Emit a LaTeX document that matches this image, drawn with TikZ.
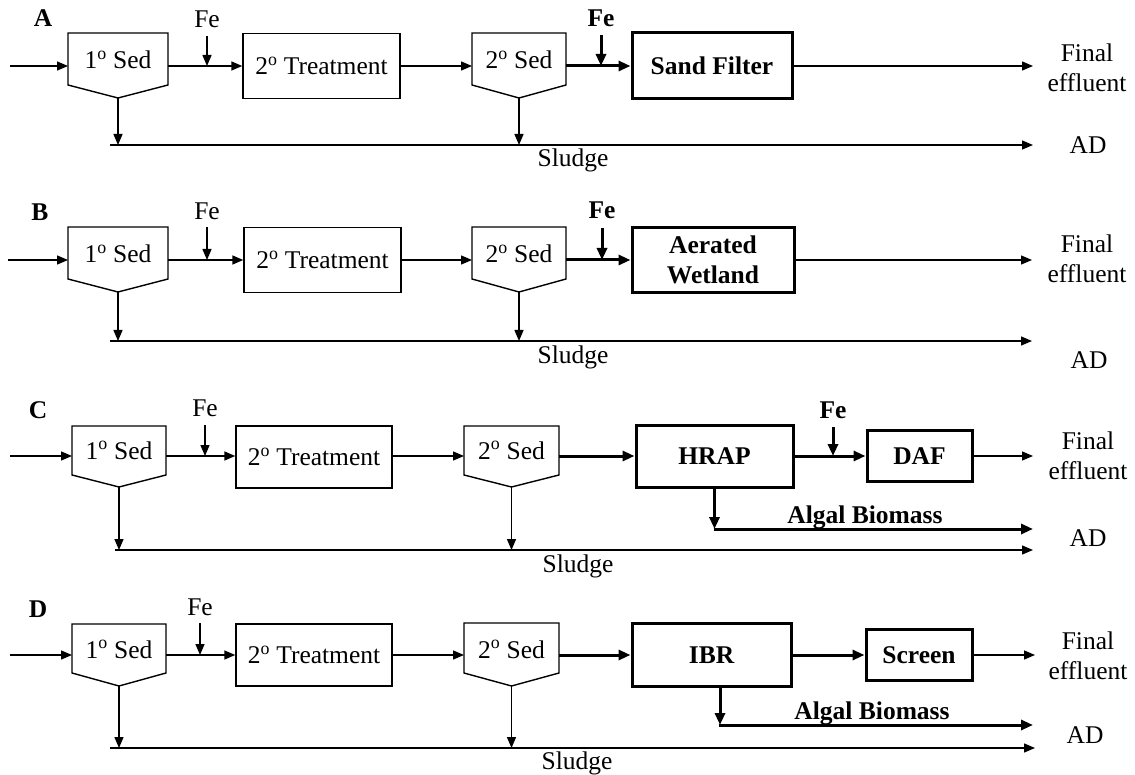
\documentclass[tikz,border=0pt]{standalone}
\usepackage{fontspec}
\setmainfont{Liberation Serif}
\usetikzlibrary{arrows.meta}
\newcommand\sedunit[8]{%
  \draw[sedline] (#2,#4) -- (#3,#4) -- (#3,#5) -- ({(#2+#3)/2},#6) -- (#2,#5) -- cycle;
  \coordinate (#1-in) at (#2,#7);
  \coordinate (#1-out) at (#3,#7);
  \coordinate (#1-bot) at ({(#2+#3)/2},#6);
  \node[txt, anchor=base] (#1-t) at ({(#2+#3)/2},#7+3) {#8};
}
\newcommand\feed[8]{%
  \node[#7, anchor=base] (#1) at (#2,#3) {#8};
  \coordinate (#1-s) at (#2,#4);
  \coordinate (#1-e) at (#2,#5);
  \draw[#6] (#1-s) -- (#1-e);
}
\tikzset{
  txt/.style={font=\fontsize{25.5}{30}\selectfont, inner sep=0pt},
  btxt/.style={font=\fontsize{25.5}{30}\selectfont\bfseries, inner sep=0pt},
  sedline/.style={line width=1.4pt, line join=miter},
  box/.style={draw, line width=1.4pt, inner sep=0pt, align=center, font=\fontsize{25.5}{30}\selectfont},
  tbox/.style={draw, line width=3pt, inner sep=0pt, align=center, font=\fontsize{25.5}{30}\selectfont\bfseries},
  flow/.style={line width=1.4pt, -{Triangle[length=11pt,width=9pt]}},
  tflow/.style={line width=3pt, -{Triangle[length=12pt,width=10pt]}},
}
\begin{document}
\begin{tikzpicture}[x=1pt,y=-1pt]
\useasboundingbox[fill=white] (0,0) rectangle (1135,775);

% ---------------- Panel A ----------------
\node[btxt, anchor=base] (Alab) at (43,27) {A};
\sedunit{A1}{68}{168}{33}{85}{98}{66}{1\textsuperscript{o} Sed}
\node[box, minimum width=157pt, minimum height=65pt] (A2) at (321.5,66) {2\textsuperscript{o} Treatment};
\sedunit{A3}{472}{566}{33}{85}{98}{66}{2\textsuperscript{o} Sed}
\node[tbox, minimum width=160pt, minimum height=66pt] (A4) at (712,66) {Sand Filter};
\coordinate (A0) at (10,66);
\coordinate (Aend) at (1033,66);
\node[txt, align=center] (Afin) at (1087,68) {Final\\effluent};
\draw[flow] (A0) -- (A1-in);
\draw[flow] (A1-out) -- (A2.west);
\draw[flow] (A2.east) -- (A3-in);
\draw[tflow] (A3-out) -- (A4.west);
\draw[flow] (A4.east) -- (Aend);
\feed{AF1}{207}{28}{36}{66}{flow}{txt}{Fe}
\feed{AF2}{601}{27}{35}{66}{tflow}{btxt}{Fe}
\coordinate (AS0) at (110,145);
\coordinate (AS1) at (1033,145);
\draw[flow] (AS0) -- (AS1);
\draw[flow] (A1-bot) -- (A1-bot |- AS0);
\draw[flow] (A3-bot) -- (A3-bot |- AS0);
\node[txt, anchor=base] (Aslg) at (573,167) {Sludge};
\node[txt, anchor=base] (AAD) at (1088,154) {AD};

% ---------------- Panel B ----------------
\node[btxt, anchor=base] (Blab) at (40,221) {B};
\sedunit{B1}{68}{168}{227}{279}{292}{260}{1\textsuperscript{o} Sed}
\node[box, minimum width=157pt, minimum height=65pt] (B2) at (322.5,260) {2\textsuperscript{o} Treatment};
\sedunit{B3}{472}{566}{227}{279}{292}{260}{2\textsuperscript{o} Sed}
\node[tbox, minimum width=162pt, minimum height=65pt] (B4) at (713,260) {Aerated\\Wetland};
\coordinate (B0) at (8,260);
\coordinate (Bend) at (1032,260);
\node[txt, align=center] (Bfin) at (1087,259) {Final\\effluent};
\draw[flow] (B0) -- (B1-in);
\draw[flow] (B1-out) -- (B2.west);
\draw[flow] (B2.east) -- (B3-in);
\draw[tflow] (B3-out) -- (B4.west);
\draw[flow] (B4.east) -- (Bend);
\feed{BF1}{207}{220}{227}{260}{flow}{txt}{Fe}
\feed{BF2}{602}{219}{228}{260}{tflow}{btxt}{Fe}
\coordinate (BS0) at (110,341);
\coordinate (BS1) at (1032,341);
\draw[flow] (BS0) -- (BS1);
\draw[flow] (B1-bot) -- (B1-bot |- BS0);
\draw[flow] (B3-bot) -- (B3-bot |- BS0);
\node[txt, anchor=base] (Bslg) at (573,364) {Sludge};
\node[txt, anchor=base] (BAD) at (1089,369) {AD};

% ---------------- Panel C ----------------
\node[btxt, anchor=base] (Clab) at (38,418) {C};
\sedunit{C1}{72}{166}{426}{475}{487}{456}{1\textsuperscript{o} Sed}
\node[box, minimum width=156pt, minimum height=62pt] (C2) at (314,457) {2\textsuperscript{o} Treatment};
\sedunit{C3}{464}{559}{426}{475}{487}{456}{2\textsuperscript{o} Sed}
\node[tbox, minimum width=157pt, minimum height=62pt] (C4) at (714.5,456) {HRAP};
\node[tbox, minimum width=105pt, minimum height=51pt] (C5) at (919.5,456) {DAF};
\coordinate (C0) at (10,456);
\coordinate (Cend) at (1033,456);
\node[txt, align=center] (Cfin) at (1088,456) {Final\\effluent};
\draw[flow] (C0) -- (C1-in);
\draw[flow] (C1-out) -- (C2.west |- C1-out);
\draw[flow] (C2.east |- C3-in) -- (C3-in);
\draw[tflow] (C3-out) -- (C4.west);
\draw[tflow] (C4.east) -- (C5.west);
\draw[flow] (C5.east) -- (Cend);
\feed{CF1}{205}{417}{425}{456}{flow}{txt}{Fe}
\feed{CF2}{833}{418}{427}{456}{tflow}{btxt}{Fe}
\coordinate (CA0) at (713.5,529);
\coordinate (CA1) at (1033,529);
\draw[tflow] (C4.south) -- (C4.south |- CA0);
\draw[tflow] (CA0) -- (CA1);
\node[btxt, anchor=base] (Calg) at (865,523) {Algal Biomass};
\node[txt, anchor=base] (CAD) at (1088,546) {AD};
\coordinate (CS0) at (115,550);
\coordinate (CS1) at (1033,550);
\draw[flow] (CS0) -- (CS1);
\draw[flow] (C1-bot) -- (C1-bot |- CS0);
\draw[flow] (C3-bot) -- (C3-bot |- CS0);
\node[txt, anchor=base] (Cslg) at (578,572) {Sludge};

% ---------------- Panel D ----------------
\node[btxt, anchor=base] (Dlab) at (38,617) {D};
\sedunit{D1}{72}{166}{624}{673}{686}{655}{1\textsuperscript{o} Sed}
\node[box, minimum width=156pt, minimum height=62pt] (D2) at (314,655) {2\textsuperscript{o} Treatment};
\sedunit{D3}{464}{559}{623}{673}{686}{655}{2\textsuperscript{o} Sed}
\node[tbox, minimum width=159pt, minimum height=63pt] (D4) at (711.5,655) {IBR};
\node[tbox, minimum width=106pt, minimum height=51pt] (D5) at (919,655) {Screen};
\coordinate (D0) at (10,655);
\coordinate (Dend) at (1035,655);
\node[txt, align=center] (Dfin) at (1088,656) {Final\\effluent};
\draw[flow] (D0) -- (D1-in);
\draw[flow] (D1-out) -- (D2.west);
\draw[flow] (D2.east) -- (D3-in);
\draw[tflow] (D3-out) -- (D4.west);
\draw[tflow] (D4.east) -- (D5.west);
\draw[flow] (D5.east) -- (Dend);
\feed{DF1}{200}{615}{623}{655}{flow}{txt}{Fe}
\coordinate (DA0) at (718.5,725);
\coordinate (DA1) at (1033,725);
\coordinate (D4d) at (720,686.5);
\draw[tflow] (D4d) -- (D4d |- DA0);
\draw[tflow] (DA0) -- (DA1);
\node[btxt, anchor=base] (Dalg) at (872,719) {Algal Biomass};
\node[txt, anchor=base] (DAD) at (1085,743) {AD};
\coordinate (DS0) at (110,748);
\coordinate (DS1) at (1035,748);
\draw[flow] (DS0) -- (DS1);
\draw[flow] (D1-bot) -- (D1-bot |- DS0);
\draw[flow] (D3-bot) -- (D3-bot |- DS0);
\node[txt, anchor=base] (Dslg) at (577,769) {Sludge};
\end{tikzpicture}
\end{document}
